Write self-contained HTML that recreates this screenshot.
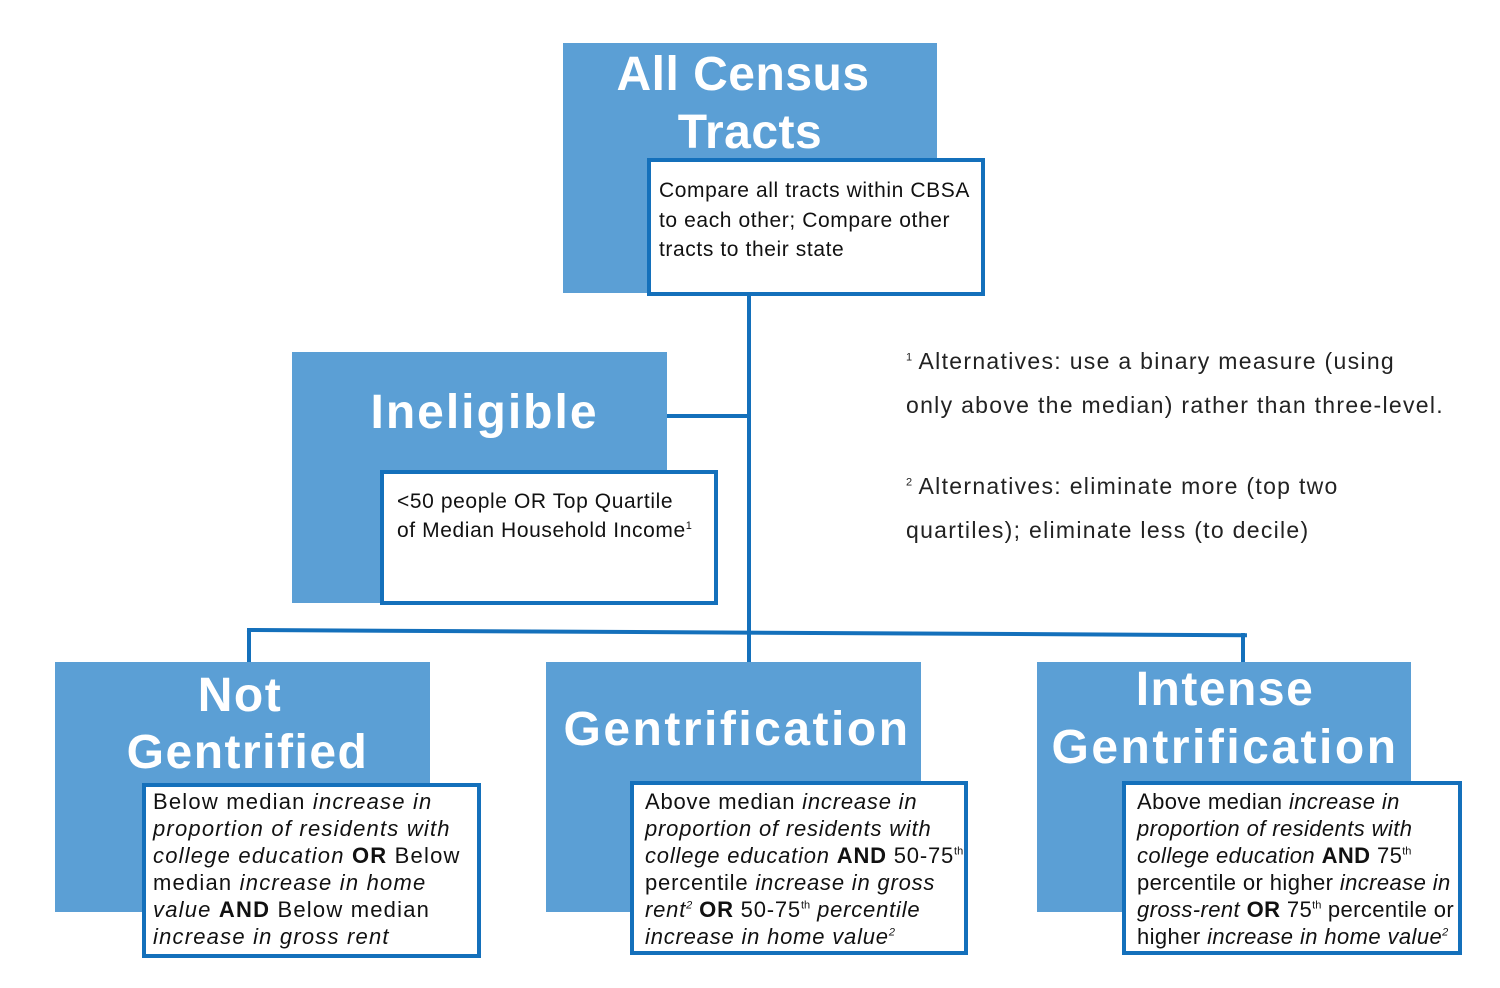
<!DOCTYPE html>
<html><head><meta charset="utf-8"><style>
body{margin:0;width:1500px;height:988px;background:#fff;position:relative;overflow:hidden;font-family:"Liberation Sans",sans-serif;}
.b{position:absolute;background:#5b9fd5;}
.w{position:absolute;background:#fff;border:4px solid #1470bb;box-sizing:border-box;}
.h{position:absolute;color:#fff;font-weight:bold;font-size:48px;line-height:58px;text-align:center;white-space:nowrap;letter-spacing:1.5px;}
.t{position:absolute;color:#111;font-size:22px;line-height:26px;white-space:nowrap;letter-spacing:1.2px;}
.t2{position:absolute;color:#111;font-size:21px;line-height:26px;white-space:nowrap;letter-spacing:0.6px;}
.n{position:absolute;color:#222;font-size:23px;line-height:30px;white-space:nowrap;letter-spacing:1.3px;}
.l{position:absolute;background:#1470bb;}
sup{font-size:11px;line-height:0;letter-spacing:0;}
</style></head><body>
<div class="l" style="left:747px;top:293px;width:4px;height:370px"></div>
<div class="l" style="left:665px;top:414px;width:84px;height:4px"></div>
<div class="l" style="left:247px;top:628px;width:1000px;height:4px;transform:rotate(0.3deg);transform-origin:0 0"></div>
<div class="l" style="left:247px;top:630px;width:4px;height:33px"></div>
<div class="l" style="left:1241px;top:633px;width:4px;height:30px"></div>

<div class="b" style="left:563px;top:43px;width:374px;height:250px"></div>
<div class="h" style="left:563px;top:46px;width:360px;letter-spacing:0.5px">All Census</div>
<div class="h" style="left:563px;top:104px;width:374px;letter-spacing:0.5px">Tracts</div>
<div class="w" style="left:647px;top:158px;width:338px;height:138px"></div>
<div class="t2" style="left:659px;top:178px">Compare all tracts within CBSA</div>
<div class="t2" style="left:659px;top:208px">to each other; Compare other</div>
<div class="t2" style="left:659px;top:237px">tracts to their state</div>

<div class="b" style="left:292px;top:352px;width:375px;height:251px"></div>
<div class="h" style="left:292px;top:384px;width:385px;letter-spacing:2px">Ineligible</div>
<div class="w" style="left:380px;top:470px;width:338px;height:135px"></div>
<div class="t2" style="left:397px;top:489px">&lt;50 people OR Top Quartile</div>
<div class="t2" style="left:397px;top:518px">of Median Household Income<sup>1</sup></div>

<div class="n" style="left:906px;top:346px"><sup>1</sup> Alternatives: use a binary measure (using</div>
<div class="n" style="left:906px;top:390px">only above the median) rather than three-level.</div>
<div class="n" style="left:906px;top:471px"><sup>2</sup> Alternatives: eliminate more (top two</div>
<div class="n" style="left:906px;top:515px">quartiles); eliminate less (to decile)</div>

<div class="b" style="left:55px;top:662px;width:375px;height:250px"></div>
<div class="h" style="left:55px;top:667px;width:370px">Not</div>
<div class="h" style="left:55px;top:724px;width:385px">Gentrified</div>
<div class="w" style="left:142px;top:783px;width:339px;height:175px"></div>
<div class="t" style="left:153px;top:789px">Below median <i>increase in</i></div>
<div class="t" style="left:153px;top:816px"><i>proportion of residents with</i></div>
<div class="t" style="left:153px;top:843px"><i>college education</i> <b>OR</b> Below</div>
<div class="t" style="left:153px;top:870px">median <i>increase in home</i></div>
<div class="t" style="left:153px;top:897px"><i>value</i> <b>AND</b> Below median</div>
<div class="t" style="left:153px;top:924px"><i>increase in gross rent</i></div>

<div class="b" style="left:546px;top:662px;width:375px;height:250px"></div>
<div class="h" style="left:546px;top:701px;width:382px;letter-spacing:2.5px">Gentrification</div>
<div class="w" style="left:630px;top:781px;width:338px;height:174px"></div>
<div style="position:absolute;left:0;top:0;letter-spacing:0.8px">
<div class="t" style="left:645px;top:789px;letter-spacing:0.8px">Above median <i>increase in</i></div>
<div class="t" style="left:645px;top:816px;letter-spacing:0.8px"><i>proportion of residents with</i></div>
<div class="t" style="left:645px;top:843px;letter-spacing:0.8px"><i>college education</i> <b>AND</b> 50-75<sup>th</sup></div>
<div class="t" style="left:645px;top:870px;letter-spacing:0.8px">percentile <i>increase in gross</i></div>
<div class="t" style="left:645px;top:897px;letter-spacing:0.8px"><i>rent<sup>2</sup></i> <b>OR</b> 50-75<sup>th</sup> <i>percentile</i></div>
<div class="t" style="left:645px;top:924px;letter-spacing:0.8px"><i>increase in home value<sup>2</sup></i></div>
</div>

<div class="b" style="left:1037px;top:662px;width:374px;height:250px"></div>
<div class="h" style="left:1037px;top:661px;width:376px">Intense</div>
<div class="h" style="left:1037px;top:719px;width:376px;letter-spacing:2.5px">Gentrification</div>
<div class="w" style="left:1122px;top:781px;width:340px;height:174px"></div>
<div class="t" style="left:1137px;top:789px;letter-spacing:0.4px">Above median <i>increase in</i></div>
<div class="t" style="left:1137px;top:816px;letter-spacing:0.4px"><i>proportion of residents with</i></div>
<div class="t" style="left:1137px;top:843px;letter-spacing:0.4px"><i>college education</i> <b>AND</b> 75<sup>th</sup></div>
<div class="t" style="left:1137px;top:870px;letter-spacing:0.4px">percentile or higher <i>increase in</i></div>
<div class="t" style="left:1137px;top:897px;letter-spacing:0.4px"><i>gross-rent</i> <b>OR</b> 75<sup>th</sup> percentile or</div>
<div class="t" style="left:1137px;top:924px;letter-spacing:0.4px">higher <i>increase in home value<sup>2</sup></i></div>
</body></html>
